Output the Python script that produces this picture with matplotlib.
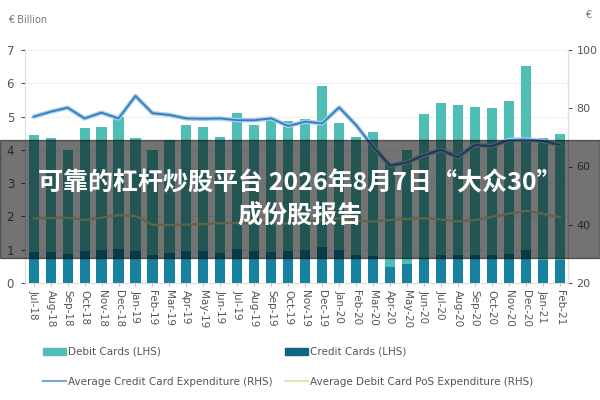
import matplotlib
matplotlib.use("Agg")
import matplotlib.pyplot as plt
from matplotlib.patches import Patch
from matplotlib.lines import Line2D
import numpy as np

months = ['Jul-18', 'Aug-18', 'Sep-18', 'Oct-18', 'Nov-18', 'Dec-18', 'Jan-19', 'Feb-19',
          'Mar-19', 'Apr-19', 'May-19', 'Jun-19', 'Jul-19', 'Aug-19', 'Sep-19', 'Oct-19',
          'Nov-19', 'Dec-19', 'Jan-20', 'Feb-20', 'Mar-20', 'Apr-20', 'May-20', 'Jun-20',
          'Jul-20', 'Aug-20', 'Sep-20', 'Oct-20', 'Nov-20', 'Dec-20', 'Jan-21', 'Feb-21']

debit_cards = [4.44, 4.35, 4.0, 4.65, 4.68, 5.0, 4.35, 4.0,
               4.3, 4.74, 4.7, 4.38, 5.1, 4.74, 4.9, 4.88,
               4.92, 5.92, 4.8, 4.4, 4.53, 3.6, 4.0, 5.07,
               5.4, 5.35, 5.3, 5.25, 5.47, 6.52, 4.35, 4.47]

credit_cards = [0.93, 0.93, 0.87, 0.95, 0.98, 1.03, 0.95, 0.85,
                0.9, 0.95, 0.95, 0.9, 1.03, 0.95, 0.93, 0.95,
                0.98, 1.08, 0.98, 0.85, 0.8, 0.47, 0.57, 0.76,
                0.85, 0.85, 0.85, 0.85, 0.87, 0.98, 0.7, 0.7]

avg_credit_exp = [77.1, 78.8, 80.2, 76.5, 78.5, 76.5, 84.2, 78.3,
                  77.7, 76.5, 76.4, 76.5, 75.9, 75.9, 76.5, 73.9,
                  75.4, 74.8, 80.3, 74.2, 66.8, 60.3, 61.4, 63.9,
                  65.7, 63.2, 67.4, 67.0, 69.1, 69.3, 68.8, 67.4]

avg_debit_pos = [42.2, 42.3, 42.4, 41.6, 42.4, 43.3, 43.0, 40.0,
                 39.9, 40.1, 40.2, 40.5, 40.6, 40.6, 40.5, 40.4,
                 41.0, 41.6, 42.2, 41.5, 41.1, 41.6, 42.0, 42.2,
                 41.8, 41.1, 41.6, 42.7, 43.8, 44.8, 43.8, 42.6]

title = '可靠的杠杆炒股平台 2026年8月7日“大众30”\n成份股报告'

grey = '#555555'
plt.rcParams['font.family'] = ['Liberation Sans Narrow', 'DejaVu Sans']

fig = plt.figure(figsize=(6, 4), dpi=100)
ax = fig.add_axes([0.042, 0.2925, 0.905, 0.5825])
x = np.arange(len(months))

ax.bar(x, debit_cards, width=0.6, color='#4fbfb6', zorder=2)
ax.bar(x, credit_cards, width=0.6, color='#16829f', zorder=3)

ax.set_ylim(0, 7)
ax.set_xlim(-0.5, len(months) - 0.5)
ax.set_yticks(range(0, 8))
ax.set_xticks(x)
ax.set_xticklabels(months, rotation=-90, fontsize=7.5, color=grey)
ax.tick_params(axis='y', labelsize=8.5, colors=grey, length=3, pad=5)
ax.tick_params(axis='x', length=2, color='#e0b0b0', pad=3)
ax.yaxis.grid(True, linestyle=(0, (1, 1.5)), color='#dddddd', linewidth=0.8, zorder=0)
ax.set_axisbelow(True)
ax.spines['top'].set_visible(False)
for side in ['left', 'right', 'bottom']:
    ax.spines[side].set_color('#dddddd')

ax2 = ax.twinx()
ax2.set_ylim(20, 100)
ax2.set_yticks([20, 40, 60, 80, 100])
ax2.tick_params(axis='y', labelsize=8, colors=grey, length=3, pad=3)
ax2.spines['top'].set_visible(False)
ax2.spines['right'].set_color('#dddddd')
ax2.spines['left'].set_visible(False)
ax2.spines['bottom'].set_visible(False)

ax2.plot(x, avg_credit_exp, color='#a8cbe8', linewidth=3.2, solid_capstyle='round', zorder=4)
ax2.plot(x, avg_credit_exp, color='#2f7fc0', linewidth=1.3, zorder=5)
ax2.plot(x, avg_debit_pos, color='#d8df9c', linewidth=1.6, zorder=4)

fig.text(0.013, 0.95, '€ Billion', fontsize=7, color='#777777', va='center')
fig.text(0.975, 0.962, '€', fontsize=7, color='#777777', va='center')

handles = [Patch(color='#4fbfb6', label='Debit Cards (LHS)'),
           Line2D([], [], color='#7aa7d6', lw=1.5, label='Average Credit Card Expenditure (RHS)'),
           Patch(color='#0f6583', label='Credit Cards (LHS)'),
           Line2D([], [], color='#dfe6b0', lw=1.5, label='Average Debit Card PoS Expenditure (RHS)')]
fig.legend(handles=handles, ncol=2, loc='center', bbox_to_anchor=(0.48, 0.083),
           frameon=False, fontsize=7.5, labelcolor=grey, handlelength=2.2,
           handleheight=0.6, handletextpad=0.2, columnspacing=1.2, labelspacing=1.9)

# dark translucent banner with title
fig.patches.append(plt.Rectangle((0, 0.355), 1, 0.295, transform=fig.transFigure,
                                 color='black', alpha=0.55, zorder=10))
fig.text(0.5, 0.5, title, ha='center', va='center', fontsize=18, color='white',
         fontweight='bold', family=['Noto Sans CJK SC', 'DejaVu Sans'],
         linespacing=1.45, zorder=11)

fig.savefig('out.png', dpi=100)
